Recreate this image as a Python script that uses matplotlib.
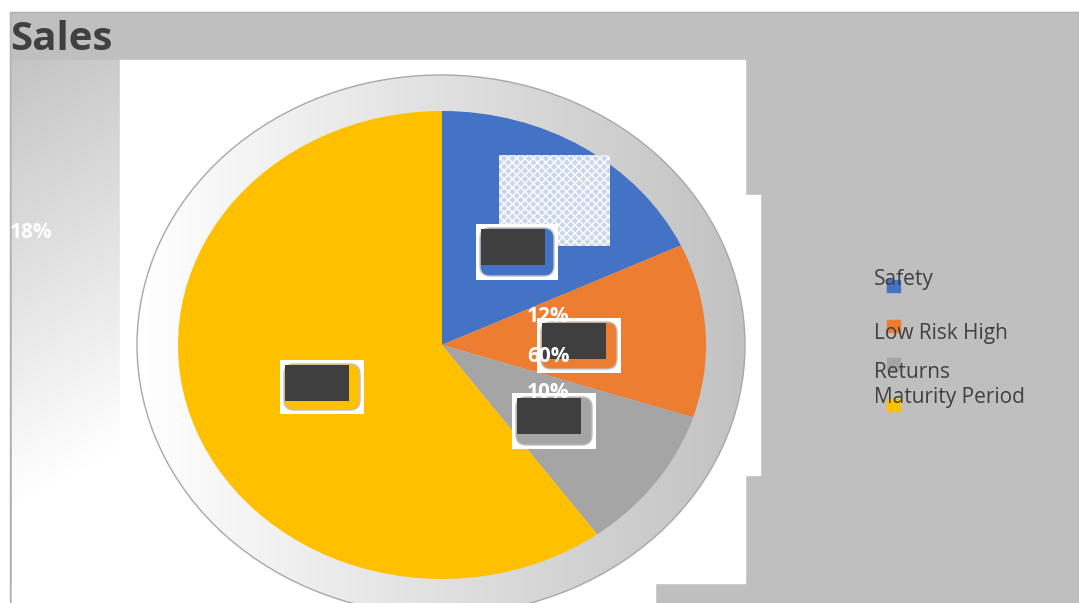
import matplotlib
matplotlib.use("Agg")
import matplotlib.pyplot as plt
import numpy as np
from matplotlib.patches import Rectangle, Ellipse, FancyBboxPatch

plt.rcParams['font.family'] = ['Open Sans', 'DejaVu Sans']

# ---- data ----
categories = ["Safety", "Low Risk High", "Returns", "Maturity Period"]
values = [18, 12, 10, 60]
colors = ["#4472C4", "#ED7D31", "#A5A5A5", "#FFC000"]
title = "Sales"

W, H = 1079, 603
fig = plt.figure(figsize=(W / 100, H / 100), dpi=100)

# background axes in pixel coordinates
bg = fig.add_axes([0, 0, 1, 1])
bg.set_xlim(0, W)
bg.set_ylim(H, 0)
bg.axis("off")

bg.add_patch(Rectangle((0, 0), W, H, color="white", zorder=0))
bg.add_patch(Rectangle((10, 12), W - 10, H - 12, facecolor="#BFBFBF",
                       edgecolor="#B0B0B0", lw=1, zorder=1))
# left gradient strip (gray at top fading to white)
gy = np.linspace(0, 1, 200)[:, None]
gx = np.linspace(0, 1, 60)[None, :]
g = np.clip(0.77 + 0.28 * gy + 0.03 * gx, 0, 1)
bg.imshow(np.dstack([g] * 3), extent=(12, 120, 603, 60), aspect="auto", zorder=2)
# white plot area
bg.add_patch(Rectangle((120, 60), 625, 523, color="white", zorder=2))
bg.add_patch(Rectangle((12, 583), 643, 20, color="white", zorder=2))
bg.add_patch(Rectangle((655, 195), 105, 280, color="white", zorder=2))

# shadow ellipse behind the pie with horizontal gradient
shadow = Ellipse((441, 345), 608, 540, facecolor="none",
                 edgecolor="#A8A8A8", lw=1, zorder=4)
bg.add_patch(shadow)
sg = np.linspace(1.0, 0.76, 200)[None, :].repeat(2, axis=0)
im = bg.imshow(np.dstack([sg] * 3), extent=(137, 745, 615, 75),
               aspect="auto", zorder=3)
im.set_clip_path(shadow)

# title
bg.text(10, 40, title, fontsize=29, fontweight="bold", color="#404040",
        ha="left", va="center", zorder=10)

# ---- pie ----
cx, cy, rx, ry = 442, 345, 264, 234
pax = fig.add_axes([(cx - rx) / W, (H - cy - ry) / H, 2 * rx / W, 2 * ry / H])
pax.pie(values, colors=colors, startangle=90, counterclock=False,
        wedgeprops=dict(linewidth=0))
pax.set_aspect("auto")
pax.set_xlim(-1, 1)
pax.set_ylim(-1, 1)
pax.axis("off")

# overlay axes for label boxes and texts
ov = fig.add_axes([0, 0, 1, 1])
ov.set_xlim(0, W)
ov.set_ylim(H, 0)
ov.axis("off")
ov.patch.set_alpha(0)

# hatched pattern area
ov.add_patch(Rectangle((499, 155), 111, 91, facecolor="#C9D6EE",
                       edgecolor="white", hatch="xxxx", lw=0, zorder=4))
boxes = [(476, 224, 82, 56, colors[0]), (537, 318, 84, 55, colors[1]),
         (280, 360, 84, 54, colors[3]), (512, 393, 84, 56, colors[2])]
for x, y, w, h, c in boxes:
    ov.add_patch(Rectangle((x, y), w, h, facecolor="white", edgecolor="none", zorder=5))
    ov.add_patch(FancyBboxPatch((x + 4, y + 4), w - 8, h - 8,
                                boxstyle="round,pad=0,rounding_size=10",
                                facecolor=c, edgecolor="#BFBFBF", lw=1, zorder=6))
    ov.add_patch(Rectangle((x + 5, y + 5), 64, 36, facecolor="#3F3F3F",
                           edgecolor="none", zorder=7))

label_pos = [(10, 232), (527, 317), (527, 392), (527, 357)]
for (x, y), v in zip(label_pos, values):
    ov.text(x, y, f"{v}%", color="white", fontsize=15, fontweight="bold",
            ha="left", va="center", zorder=9)

# legend
text_y = [280, 333, 372, 397]
mark_y = [286, 326, 364, 405]
for lab, c, ty, my in zip(categories, colors, text_y, mark_y):
    ov.add_patch(Rectangle((887, my - 6), 13, 12, color=c, zorder=8))
    ov.text(874, ty, lab, fontsize=15, color="#404040", ha="left",
            va="center", zorder=9)

fig.savefig("out.png", dpi=100)
